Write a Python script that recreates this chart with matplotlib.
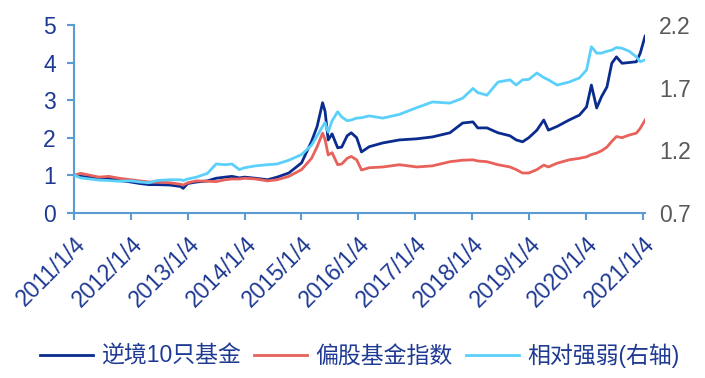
import pandas as pd
import matplotlib
matplotlib.use('Agg')
import matplotlib.pyplot as plt

plt.rcParams['font.family'] = ['Liberation Sans', 'Noto Sans CJK SC', 'DejaVu Sans']

# values
dates = ['2011-01-04', '2011-02-15', '2011-04-15', '2011-06-15', '2011-08-15', '2011-10-20',
         '2012-01-04', '2012-03-01', '2012-05-01', '2012-06-20', '2012-09-10', '2012-11-20',
         '2012-12-05', '2013-01-04', '2013-03-01', '2013-05-10', '2013-07-05', '2013-09-01',
         '2013-10-15', '2013-12-01', '2014-01-04', '2014-03-15', '2014-06-01', '2014-08-01',
         '2014-10-15', '2015-01-05', '2015-03-10', '2015-04-15', '2015-05-20', '2015-06-05',
         '2015-06-25', '2015-07-20', '2015-08-25', '2015-09-20', '2015-10-25', '2015-11-20',
         '2015-12-25', '2016-01-25', '2016-03-15', '2016-06-10', '2016-09-25', '2017-01-15',
         '2017-04-25', '2017-08-15', '2017-11-05', '2018-01-10', '2018-02-10', '2018-04-10',
         '2018-06-20', '2018-09-05', '2018-10-15', '2018-11-25', '2019-01-04', '2019-02-25',
         '2019-04-10', '2019-05-10', '2019-07-05', '2019-09-20', '2019-11-25', '2020-01-10',
         '2020-02-10', '2020-03-15', '2020-04-15', '2020-05-20', '2020-06-20', '2020-07-20',
         '2020-08-25', '2020-10-10', '2020-11-25', '2020-12-20', '2021-01-20']

fund10 = [1.00, 0.97, 0.95, 0.90, 0.92, 0.86,
          0.82, 0.78, 0.75, 0.75, 0.74, 0.70,
          0.65, 0.78, 0.82, 0.85, 0.92, 0.95,
          0.97, 0.93, 0.95, 0.92, 0.88, 0.95,
          1.06, 1.33, 1.90, 2.30, 2.93, 2.70,
          1.94, 2.10, 1.73, 1.75, 2.05, 2.13,
          2.00, 1.62, 1.76, 1.86, 1.94, 1.97,
          2.02, 2.13, 2.39, 2.42, 2.26, 2.26,
          2.13, 2.05, 1.94, 1.89, 2.00, 2.20,
          2.47, 2.20, 2.30, 2.47, 2.60, 2.82,
          3.40, 2.79, 3.09, 3.35, 3.98, 4.15,
          3.98, 4.00, 4.02, 4.25, 4.70]

fund_index = [1.00, 1.05, 1.00, 0.95, 0.97, 0.92,
              0.88, 0.85, 0.82, 0.82, 0.80, 0.76,
              0.74, 0.80, 0.85, 0.84, 0.83, 0.88,
              0.90, 0.90, 0.92, 0.90, 0.85, 0.88,
              0.97, 1.15, 1.45, 1.76, 2.12, 1.95,
              1.54, 1.60, 1.28, 1.30, 1.45, 1.50,
              1.41, 1.14, 1.20, 1.22, 1.28, 1.22,
              1.25, 1.36, 1.40, 1.41, 1.38, 1.36,
              1.28, 1.22, 1.15, 1.06, 1.06, 1.15,
              1.27, 1.22, 1.32, 1.41, 1.45, 1.49,
              1.55, 1.59, 1.65, 1.75, 1.90, 2.03,
              2.00, 2.07, 2.12, 2.25, 2.47]

rel_strength = [1.000, 0.979, 0.970, 0.961, 0.958, 0.952,
                0.955, 0.946, 0.940, 0.958, 0.964, 0.964,
                0.958, 0.970, 0.985, 1.015, 1.090, 1.084,
                1.090, 1.045, 1.060, 1.075, 1.084, 1.090,
                1.120, 1.165, 1.240, 1.315, 1.390, 1.420,
                1.345, 1.435, 1.507, 1.465, 1.435, 1.441,
                1.456, 1.459, 1.474, 1.456, 1.486, 1.540,
                1.585, 1.576, 1.615, 1.693, 1.660, 1.639,
                1.744, 1.762, 1.720, 1.762, 1.765, 1.816,
                1.780, 1.762, 1.720, 1.744, 1.777, 1.840,
                2.026, 1.975, 1.975, 1.990, 1.999, 2.020,
                2.014, 1.990, 1.945, 1.906, 1.921]

tick_dates = ['2011-01-04', '2012-01-04', '2013-01-04', '2014-01-04', '2015-01-04', '2016-01-04',
              '2017-01-04', '2018-01-04', '2019-01-04', '2020-01-04', '2021-01-04']

names = ['逆境10只基金', '偏股基金指数', '相对强弱(右轴)']

x = pd.to_datetime(dates)
xt = pd.to_datetime(tick_dates)

navy = '#0B2C8F'
red = '#E8615B'
cyan = '#5BD0FA'
axis_col = '#5B9BD5'
text_col = '#1F3A93'

fig = plt.figure(figsize=(7.05, 3.78), dpi=100)
ax = fig.add_axes([0.105, 0.437, 0.81, 0.497])
ax2 = ax.twinx()

l1, = ax.plot(x, fund10, color=navy, lw=2.0, label=names[0])
l2, = ax.plot(x, fund_index, color=red, lw=2.0, label=names[1])
l3, = ax2.plot(x, rel_strength, color=cyan, lw=2.0, label=names[2])

ax.set_xlim(x[0], x[-1])
ax.set_ylim(0, 5)
ax.set_yticks(range(6))
ax2.set_ylim(0.7, 2.2)
ax2.set_yticks([0.7, 1.2, 1.7, 2.2])
ax2.set_yticklabels(['0.7', '1.2', '1.7', '2.2'])

ax.set_xticks(xt)
ax.set_xticklabels([f'{d.year}/{d.month}/{d.day}' for d in xt], rotation=45,
                   ha='right', va='top', rotation_mode='anchor')

for a in (ax, ax2):
    for s in a.spines.values():
        s.set_visible(False)
for side in ('left', 'bottom'):
    ax.spines[side].set_visible(True)
    ax.spines[side].set_color(axis_col)
    ax.spines[side].set_linewidth(1.5)

ax.tick_params(axis='x', colors=axis_col, labelcolor=text_col, labelsize=16.5, length=5, width=1.5, pad=9)
ax.tick_params(axis='y', colors=axis_col, labelcolor=text_col, labelsize=16.5, length=5, width=1.5, pad=8)
ax2.tick_params(axis='y', length=0, labelcolor='#595959', labelsize=16.5, pad=10)

fig.legend([l1, l2, l3], names, loc='center', bbox_to_anchor=(0.51, 0.06), ncol=3,
           frameon=False, fontsize=16.5, handlelength=2.3, handletextpad=0.35, columnspacing=0.6,
           labelcolor=text_col)

fig.savefig('out.png', dpi=100)
